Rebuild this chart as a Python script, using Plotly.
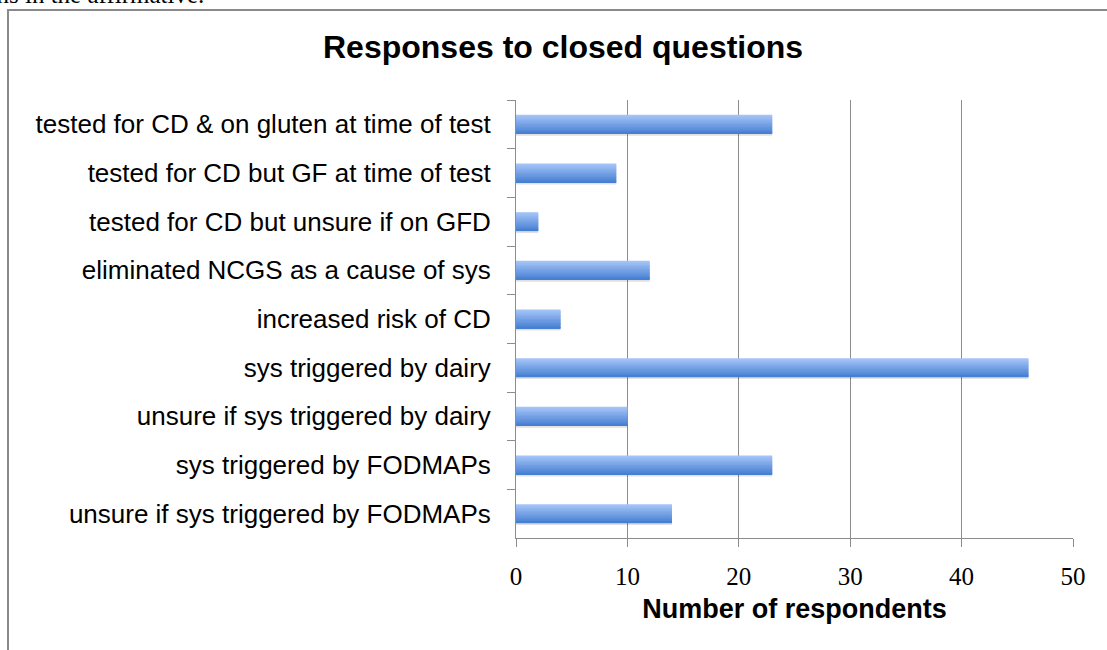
import plotly.graph_objects as go

categories = [
    "tested for CD & on gluten at time of test",
    "tested for CD but GF at time of test",
    "tested for CD but unsure if on GFD",
    "eliminated NCGS as a cause of sys",
    "increased risk of CD",
    "sys triggered by dairy",
    "unsure if sys triggered by dairy",
    "sys triggered by FODMAPs",
    "unsure if sys triggered by FODMAPs",
]
respondents = [23, 9, 2, 12, 4, 46, 10, 23, 14]
x_ticks = [0, 10, 20, 30, 40, 50]

W, H = 1107, 650
L, R, T, B = 516, 1073, 100, 538
pw, ph = R - L, B - T

def px(x):
    return (x - L) / pw

def py(y):
    return (B - y) / ph

fig = go.Figure()

bar_w = 0.39
# soft shadow
fig.add_trace(go.Bar(
    y=categories, x=respondents, orientation="h",
    width=bar_w, offset=-bar_w / 2 + 0.04,
    marker=dict(color="rgba(0,0,0,0.12)", line=dict(width=0)),
    hoverinfo="skip", showlegend=False,
))
c_top = (0xa4, 0xc4, 0xf8)
c_bot = (0x47, 0x80, 0xd2)
n = 14
sw = bar_w / n
for i in range(n):
    t = i / (n - 1)
    rgb = tuple(round(a + (b - a) * t) for a, b in zip(c_top, c_bot))
    fig.add_trace(go.Bar(
        y=categories, x=respondents, orientation="h",
        width=sw * 1.6 if i < n - 1 else sw, offset=-bar_w / 2 + i * sw,
        marker=dict(color="rgb(%d,%d,%d)" % rgb, line=dict(width=0)),
        hoverinfo="skip", showlegend=False,
    ))

fig.update_layout(
    width=W, height=H,
    margin=dict(l=L, r=W - R, t=T, b=H - B),
    paper_bgcolor="white", plot_bgcolor="white",
    barmode="overlay",
    showlegend=False,
    font=dict(family="Liberation Sans, Arial", color="black"),
)

fig.update_xaxes(
    range=[0, 50], tickvals=x_ticks, ticktext=[str(v) for v in x_ticks],
    showgrid=True, gridcolor="#8c8c8c", gridwidth=1,
    showline=True, linecolor="#8c8c8c", linewidth=1,
    ticks="outside", ticklen=8, tickcolor="#8c8c8c",
    tickfont=dict(family="Liberation Serif, Times New Roman", size=25, color="black"),
    ticklabelstandoff=8,
    zeroline=False,
    title=dict(text="<b>Number of respondents</b>",
               font=dict(family="Liberation Sans, Arial", size=27, color="black"),
               standoff=10),
)
fig.update_yaxes(
    autorange="reversed",
    showgrid=False,
    showline=True, linecolor="#8c8c8c", linewidth=1,
    ticks="outside", ticklen=8, tickcolor="#8c8c8c", tickson="boundaries",
    tickfont=dict(family="Liberation Sans, Arial", size=26, color="black"),
    ticklabelstandoff=19,
)

# chart frame
fig.add_shape(type="rect", xref="paper", yref="paper",
              x0=px(8), x1=px(1112), y0=py(660), y1=py(10),
              line=dict(color="#8a8a8a", width=2), fillcolor="rgba(0,0,0,0)",
              layer="below")

fig.add_annotation(text="<b>Responses to closed questions</b>",
                   xref="paper", yref="paper", x=px(563), y=py(47),
                   xanchor="center", yanchor="middle", showarrow=False,
                   font=dict(family="Liberation Sans, Arial", size=32, color="black"))

fig.add_annotation(text="ons in the affirmative.",
                   xref="paper", yref="paper", x=px(206), y=py(10),
                   xanchor="right", yanchor="bottom", showarrow=False,
                   font=dict(family="Liberation Serif, Times New Roman", size=25, color="black"))

fig.write_html("out.html", config={"displayModeBar": False},
               post_script="document.body.style.margin='0px';")
